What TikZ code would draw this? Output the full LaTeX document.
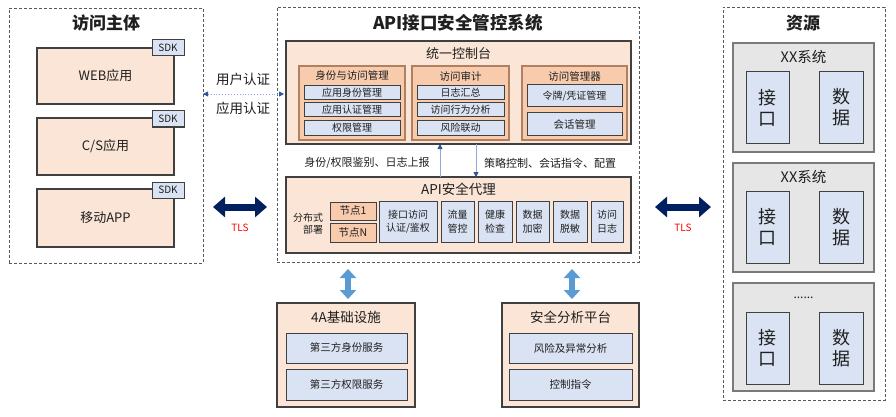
\documentclass[tikz,border=0pt]{standalone}
\usepackage{fontspec}
\setmainfont{Noto Sans CJK SC}
\usetikzlibrary{arrows.meta,fit}
\definecolor{peach}{HTML}{FBE5D6}
\definecolor{orng}{HTML}{F8CBAD}
\definecolor{lblue}{HTML}{DAE3F3}
\definecolor{sysgray}{HTML}{E7E6E6}
\definecolor{bdr}{HTML}{404040}
\definecolor{pbdr}{HTML}{595959}
\definecolor{obdr}{HTML}{B08060}
\definecolor{navy}{HTML}{002060}
\definecolor{arrblue}{HTML}{5B9BD5}
\definecolor{thinblue}{HTML}{8FAADC}
\definecolor{tipblue}{HTML}{2F5597}
\definecolor{tlsred}{HTML}{FF0000}
\definecolor{txt}{HTML}{1F1F1F}
% #1 box style, #2 corner, #3 corner, #4 name, #5 text style, #6 text
\newcommand\mybox[6]{\node[#1, fit={(#2) (#3)}] (#4) {};\node[#5] at (#4.center) {#6};}
\begin{document}
\begin{tikzpicture}[x=1pt,y=-1pt,
  every node/.style={inner sep=0pt, outer sep=0pt, text=txt, align=center},
  panel/.style={draw=pbdr, dash pattern=on 3pt off 2pt, line width=0.9pt},
  peachbox/.style={draw=bdr, fill=peach, line width=1.1pt},
  orbox/.style={draw=obdr, fill=orng, line width=1.1pt},
  nodebox/.style={draw=bdr, fill=orng, line width=1pt},
  item/.style={draw=bdr, fill=lblue, line width=1pt},
  sysbox/.style={draw=pbdr!80, fill=sysgray, line width=1.2pt},
  ttl/.style={font=\fontsize{17}{20}\selectfont\bfseries},
  big/.style={font=\fontsize{13}{16}\selectfont},
  bigb/.style={font=\fontsize{13.5}{16}\selectfont},
  mid/.style={font=\fontsize{10.5}{12}\selectfont},
  sml/.style={font=\fontsize{10}{12}\selectfont},
  pitem/.style={font=\fontsize{10}{13.5}\selectfont},
  res/.style={font=\fontsize{18}{21}\selectfont},
  tlslbl/.style={text=tlsred, font=\fontsize{10}{12}\selectfont},
  tlsarrow/.style={draw=navy, line width=7pt, {Triangle[width=20pt,length=12pt]}-{Triangle[width=20pt,length=12pt]}},
  bluearrow/.style={draw=arrblue, line width=5.5pt, {Triangle[width=16pt,length=9pt]}-{Triangle[width=16pt,length=9pt]}},
  thinarrow/.style={draw=thinblue, line width=0.9pt, -{Triangle[width=5pt,length=5pt,color=tipblue]}},
  authline/.style={draw=thinblue, line width=0.9pt, dotted, {Triangle[width=5pt,length=5pt,color=tipblue]}-{Triangle[width=5pt,length=5pt,color=tipblue]}}
]
\useasboundingbox[fill=white] (0,0) rectangle (896,417);

% ---------------- left panel
\node[panel, fit={(9,8) (203,263)}] (lp) {};
\node[ttl] at (106,23) {访问主体};
\mybox{peachbox}{37,48}{174,104}{web}{big}{WEB应用}
\mybox{item}{152,40}{184,56}{sdk1}{sml}{SDK}
\mybox{peachbox}{37,118}{174,175}{cs}{big}{C/S应用}
\mybox{item}{152,111}{184,127}{sdk2}{sml}{SDK}
\mybox{peachbox}{37,189}{174,247}{app}{big}{移动APP}
\mybox{item}{152,182}{184,198}{sdk3}{sml}{SDK}

% ---------------- centre panel
\node[panel, fit={(277,7) (639,262)}] (cp) {};
\node[font=\fontsize{17.5}{20}\selectfont\bfseries] at (458,23) {API接口安全管控系统};

\node[peachbox, fit={(286,41) (631,144)}] (con) {};
\node[big] at (458.5,54) {统一控制台};

\node[orbox, fit={(299,66) (405,140)}] (g1) {};
\node[mid] at (352,76) {身份与访问管理};
\mybox{item}{304,86}{400,100}{g1a}{sml}{应用身份管理}
\mybox{item}{304,103}{400,117}{g1b}{sml}{应用认证管理}
\mybox{item}{304,121}{400,135}{g1c}{sml}{权限管理}

\node[orbox, fit={(412,66) (509,140)}] (g2) {};
\node[mid] at (460.5,76) {访问审计};
\mybox{item}{417,86}{504,100}{g2a}{sml}{日志汇总}
\mybox{item}{417,103}{504,117}{g2b}{sml}{访问行为分析}
\mybox{item}{417,121}{504,135}{g2c}{sml}{风险联动}

\node[orbox, fit={(522,66) (627,140)}] (g3) {};
\node[mid] at (574.5,76) {访问管理器};
\mybox{item}{527,85}{622,107}{g3a}{sml}{令牌/凭证管理}
\mybox{item}{527,113}{622,135}{g3b}{mid}{会话管理}

\node[peachbox, fit={(286,177) (631,253)}] (prx) {};
\node[bigb] at (458.5,189) {API安全代理};
\node[sml, align=right, anchor=east] at (323,224) {分布式\\部署};
\mybox{nodebox}{330,202}{376,220}{n1}{mid}{节点1}
\mybox{nodebox}{330,223}{376,242}{nN}{mid}{节点N}
\mybox{item}{379,201}{437,242}{p1}{pitem}{接口访问\\认证/鉴权}
\mybox{item}{441,201}{474,242}{p2}{pitem}{流量\\管控}
\mybox{item}{478,201}{512,242}{p3}{pitem}{健康\\检查}
\mybox{item}{516,201}{549,242}{p4}{pitem}{数据\\加密}
\mybox{item}{553,201}{587,242}{p5}{pitem}{数据\\脱敏}
\mybox{item}{591,201}{623,242}{p6}{pitem}{访问\\日志}

\coordinate (xup) at (440,0);
\coordinate (xdn) at (476,0);
\draw[thinarrow] (prx.north -| xup) -- (con.south -| xup);
\draw[thinarrow] (con.south -| xdn) -- (prx.north -| xdn);
\node[font=\fontsize{11}{13}\selectfont] at (367,163) {身份/权限鉴别、日志上报};
\node[font=\fontsize{11}{13}\selectfont] at (550,163) {策略控制、会话指令、配置};

% ---------------- bottom boxes
\node[peachbox, fit={(277,303) (415,407)}] (fa) {};
\node[bigb] at (346,317) {4A基础设施};
\mybox{item}{286,333}{407,363}{fa1}{mid}{第三方身份服务}
\mybox{item}{286,369}{407,400}{fa2}{mid}{第三方权限服务}

\node[peachbox, fit={(502,303) (639,407)}] (sa) {};
\node[bigb] at (570.5,317) {安全分析平台};
\mybox{item}{509,333}{632,363}{sa1}{mid}{风险及异常分析}
\mybox{item}{509,369}{632,400}{sa2}{mid}{控制指令}

\coordinate (xfa) at (348,0);
\coordinate (xsa) at (572,0);
\draw[bluearrow, shorten <=7pt, shorten >=4pt] (cp.south -| xfa) -- (fa.north -| xfa);
\draw[bluearrow, shorten <=7pt, shorten >=4pt] (cp.south -| xsa) -- (sa.north -| xsa);

% ---------------- right panel
\node[panel, fit={(723,7) (885,400)}] (rp) {};
\node[ttl] at (803,23) {资源};

\node[sysbox, fit={(733,43) (874,152)}] (s1) {};
\node[font=\fontsize{14.5}{16}\selectfont] at (803.5,57) {XX系统};
\mybox{item}{746,72}{789,143}{s1i}{res}{接\\口}
\mybox{item}{819,72}{863,143}{s1d}{res}{数\\据}

\node[sysbox, fit={(733,163) (874,272)}] (s2) {};
\node[font=\fontsize{14.5}{16}\selectfont] at (803.5,177) {XX系统};
\mybox{item}{746,191}{789,263}{s2i}{res}{接\\口}
\mybox{item}{819,191}{863,263}{s2d}{res}{数\\据}

\node[sysbox, fit={(733,283) (874,391)}] (s3) {};
\node[font=\fontsize{12}{14}\selectfont] at (803.5,298) {......};
\mybox{item}{746,312}{789,384}{s3i}{res}{接\\口}
\mybox{item}{819,312}{863,384}{s3d}{res}{数\\据}

% ---------------- connectors between panels
\coordinate (yauth) at (0,94);
\coordinate (ytls) at (0,207);
\draw[authline] (lp.east |- yauth) -- ([xshift=-2pt]con.west |- yauth);
\node[font=\fontsize{13.5}{16}\selectfont] at (243,79) {用户认证};
\node[font=\fontsize{13.5}{16}\selectfont] at (243,108) {应用认证};

\draw[tlsarrow, shorten <=10pt, shorten >=10pt] (lp.east |- ytls) -- (cp.west |- ytls);
\node[tlslbl] at (240,228) {TLS};
\draw[tlsarrow, shorten <=16pt, shorten >=12pt] (cp.east |- ytls) -- (rp.west |- ytls);
\node[tlslbl] at (683,228) {TLS};
\end{tikzpicture}
\end{document}
